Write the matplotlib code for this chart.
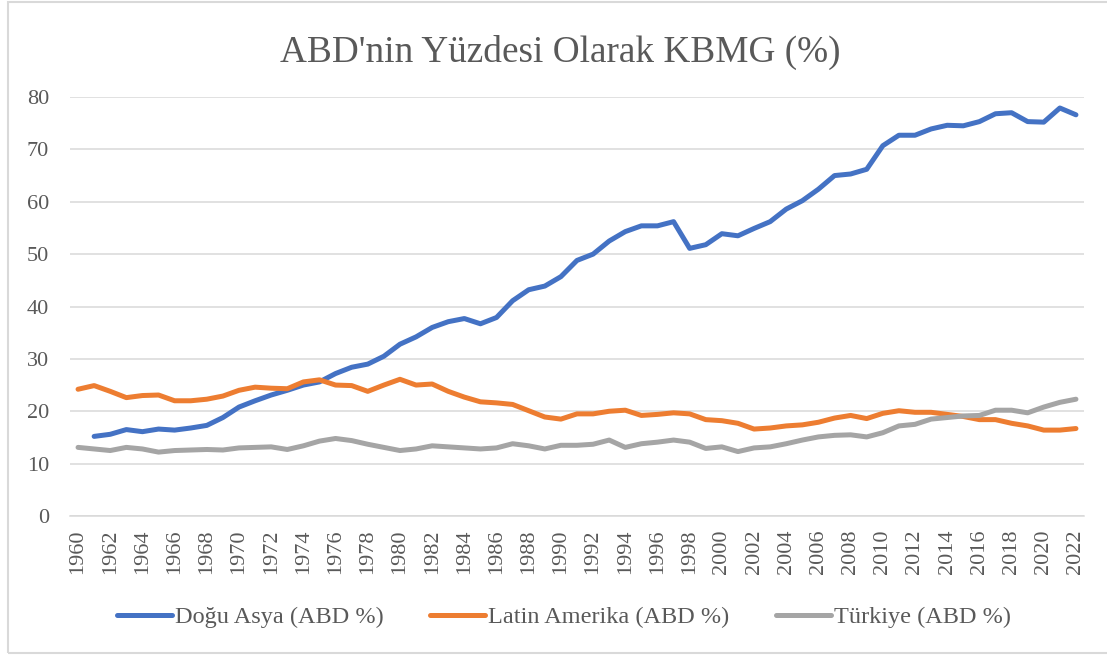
#!/usr/bin/env python3
"""
ABD'nin yuzdesi olarak KBMG: Dogu Asya, Latin Amerika, Turkiye (1960-2022).
Writes out.png (1107x655).
"""
import matplotlib
matplotlib.use("Agg")
import matplotlib.pyplot as plt
from matplotlib.patches import Rectangle
import numpy as np

years = list(range(1960, 2023))

east_asia = [
    np.nan, 15.2, 15.6, 16.5, 16.1, 16.6, 16.4, 16.8, 17.3, 18.8,
    20.8, 22.0, 23.1, 24.0, 25.0, 25.6, 27.2, 28.4, 29.0, 30.5,
    32.8, 34.2, 36.0, 37.1, 37.7, 36.7, 37.9, 41.1, 43.2, 43.9,
    45.7, 48.8, 50.0, 52.5, 54.3, 55.4, 55.4, 56.2, 51.1, 51.8,
    53.9, 53.5, 54.9, 56.2, 58.6, 60.2, 62.4, 65.0, 65.3, 66.2,
    70.7, 72.7, 72.7, 73.9, 74.6, 74.5, 75.3, 76.8, 77.0, 75.3,
    75.2, 77.9, 76.6,
]
latin_america = [
    24.2, 24.9, 23.8, 22.6, 23.0, 23.1, 22.0, 22.0, 22.3, 22.9,
    24.0, 24.6, 24.4, 24.3, 25.6, 26.0, 25.0, 24.9, 23.8, 25.0,
    26.1, 25.0, 25.2, 23.8, 22.7, 21.8, 21.6, 21.3, 20.1, 18.9,
    18.5, 19.5, 19.5, 20.0, 20.2, 19.2, 19.4, 19.7, 19.5, 18.4,
    18.2, 17.7, 16.6, 16.8, 17.2, 17.4, 17.9, 18.7, 19.2, 18.6,
    19.6, 20.1, 19.8, 19.8, 19.4, 19.0, 18.4, 18.4, 17.7, 17.2,
    16.4, 16.4, 16.7,
]
turkey = [
    13.1, 12.8, 12.5, 13.1, 12.8, 12.2, 12.5, 12.6, 12.7, 12.6,
    13.0, 13.1, 13.2, 12.7, 13.4, 14.3, 14.8, 14.4, 13.7, 13.1,
    12.5, 12.8, 13.4, 13.2, 13.0, 12.8, 13.0, 13.8, 13.4, 12.8,
    13.5, 13.5, 13.7, 14.5, 13.1, 13.8, 14.1, 14.5, 14.1, 12.9,
    13.2, 12.3, 13.0, 13.2, 13.8, 14.5, 15.1, 15.4, 15.5, 15.1,
    15.9, 17.2, 17.5, 18.5, 18.8, 19.1, 19.2, 20.2, 20.2, 19.7,
    20.8, 21.7, 22.3,
]

series = [
    ("Doğu Asya (ABD %)", east_asia, "#4472C4"),
    ("Latin Amerika (ABD %)", latin_america, "#ED7D31"),
    ("Türkiye (ABD %)", turkey, "#A5A5A5"),
]

TEXT = "#595959"
GRID = "#D9D9D9"
plt.rcParams["font.family"] = ["Liberation Serif", "DejaVu Serif"]

fig = plt.figure(figsize=(11.07, 6.55), dpi=100)
ax = fig.add_axes([70 / 1107, 1 - 516 / 655, 1014 / 1107, 419 / 655])

x = np.arange(len(years))
for label, vals, color in series:
    ax.plot(x, vals, color=color, linewidth=3.6, solid_capstyle="round",
            solid_joinstyle="round", label=label)

ax.set_xlim(-0.5, len(years) - 0.5)
ax.set_ylim(0, 80)
ax.set_yticks(range(0, 81, 10))
ax.set_xticks(x[::2])
ax.set_xticklabels([str(y) for y in years[::2]], rotation=90)
ax.tick_params(axis="both", length=0, labelsize=16, colors=TEXT)
ax.tick_params(axis="y", pad=15)
ax.tick_params(axis="x", pad=10)
ax.grid(axis="y", color=GRID, linewidth=1.1)
ax.set_axisbelow(True)
for side in ("top", "right", "left"):
    ax.spines[side].set_visible(False)
ax.spines["bottom"].set_color(GRID)
ax.spines["bottom"].set_linewidth(1.1)

fig.text(560 / 1107, 1 - 62 / 655, "ABD'nin Yüzdesi Olarak KBMG (%)",
         ha="center", va="baseline", fontsize=26.8, color=TEXT)

leg = fig.legend(loc="center", bbox_to_anchor=(564 / 1107, 1 - 617 / 655),
                 ncol=3, frameon=False, fontsize=17.5, handlelength=2.26,
                 handletextpad=0.12, columnspacing=1.93, labelcolor=TEXT)
for h in leg.get_lines():
    h.set_linewidth(3.6)

# chart-area border
fig.patches.append(Rectangle((8 / 1107, 2 / 655), 1.1, 651 / 655,
                             transform=fig.transFigure, fill=False,
                             edgecolor=GRID, linewidth=1.5))

fig.savefig("out.png", dpi=100)
